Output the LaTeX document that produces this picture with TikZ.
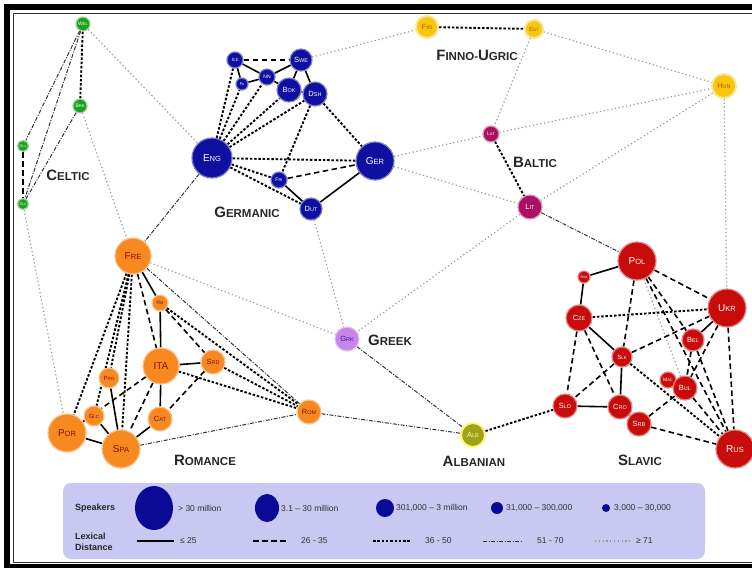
\documentclass[tikz,border=0pt]{standalone}
\usepackage{fontspec}
\setmainfont{Liberation Sans}
\setsansfont{Liberation Sans}
\usetikzlibrary{backgrounds,shapes.geometric}
\definecolor{celtC}{RGB}{30,160,30}
\definecolor{germC}{RGB}{16,16,160}
\definecolor{finC}{RGB}{248,198,10}
\definecolor{finT}{RGB}{200,80,0}
\definecolor{baltC}{RGB}{172,16,98}
\definecolor{grkC}{RGB}{200,132,235}
\definecolor{grkT}{RGB}{50,30,160}
\definecolor{albC}{RGB}{160,162,25}
\definecolor{romC}{RGB}{248,136,32}
\definecolor{romT}{RGB}{140,10,0}
\definecolor{slavC}{RGB}{200,12,12}
\definecolor{legC}{RGB}{200,200,242}
\definecolor{legB}{RGB}{10,10,150}
\newcommand\nl[4]{{\fontsize{#3}{#3}\selectfont #1}{\fontsize{#4}{#4}\selectfont #2}}
\newcommand\lblXL[2]{\nl{#1}{#2}{10}{7.5}}
\newcommand\lblL[2]{\nl{#1}{#2}{7.5}{5.5}}
\newcommand\lblM[2]{\nl{#1}{#2}{6}{4.5}}
\newcommand\lblS[2]{\nl{#1}{#2}{5}{4}}
\newcommand\lblXS[2]{\nl{#1}{#2}{4}{3}}
\newcommand\grp[2]{{\fontsize{15}{15}\selectfont #1}{\fontsize{11.5}{11.5}\selectfont #2}}
\tikzset{
  lang/.style={circle, inner sep=0pt, line width=1.2pt, font=\sffamily},
  celt/.style={lang, fill=celtC, draw=celtC!45!white, text=white},
  germ/.style={lang, fill=germC, draw=germC!55!white, text=white},
  finn/.style={lang, fill=finC, draw=finC!45!white, text=finT, line width=2pt},
  balt/.style={lang, fill=baltC, draw=baltC!45!white, text=white},
  grk/.style={lang, fill=grkC, draw=grkC!50!white, text=grkT},
  alb/.style={lang, fill=albC, draw=yellow!50!white, text=yellow!40!white, line width=2pt},
  roma/.style={lang, fill=romC, draw=romC!50!white, text=romT},
  slav/.style={lang, fill=slavC, draw=slavC!50!white, text=white},
  grplbl/.style={font=\sffamily\bfseries, text=black!85, inner sep=0pt},
  legtxt/.style={font=\sffamily\fontsize{8.5}{9.5}\selectfont, text=black!80, inner sep=0pt, anchor=west},
  legbold/.style={font=\sffamily\bfseries\fontsize{9}{10.5}\selectfont, text=black!85, inner sep=0pt, anchor=west, align=left},
  lsolid/.style={line width=1.6pt, black},
  ldash/.style={line width=1.6pt, black, dash pattern=on 5.5pt off 3.5pt},
  ldense/.style={line width=1.9pt, black, dash pattern=on 2.5pt off 1.8pt},
  ldd/.style={line width=1pt, black!80, dash pattern=on 4pt off 1.5pt on 1pt off 1.5pt},
  ldot/.style={line width=1.2pt, black!40, dash pattern=on 1.2pt off 2.6pt},
}
\begin{document}
\begin{tikzpicture}[x=1pt,y=-1pt]
\useasboundingbox (0,0) rectangle (752,570);
% frame
\fill[black] (4,4) rectangle (752,10);
\fill[black] (4,4) rectangle (10,568);
\fill[black] (4,564) rectangle (752,568);
\draw[black!80, line width=0.8pt] (752,13) -- (13,13) -- (13,562) -- (752,562);
% Celtic
\node[celt, minimum size=14pt] (Wel) at (83,24) {\lblS{W}{EL}};
\node[celt, minimum size=14pt] (Bre) at (80,106) {\lblS{B}{RE}};
\node[celt, minimum size=11pt] (Gla) at (23,146) {\lblXS{G}{LA}};
\node[celt, minimum size=11pt] (Gle) at (23,204) {\lblXS{G}{LE}};
% Germanic
\node[germ, minimum size=16pt] (Ice) at (235,60) {\lblS{I}{CE}};
\node[germ, minimum size=12pt] (Fa) at (242,84) {\lblXS{F}{A}};
\node[germ, minimum size=16pt] (NN) at (267,77) {\lblS{NN}{}};
\node[germ, minimum size=22pt] (Swe) at (301,60) {\lblL{S}{WE}};
\node[germ, minimum size=24pt] (Bok) at (289,90) {\lblL{B}{OK}};
\node[germ, minimum size=24pt] (Dsh) at (315,94) {\lblL{D}{SH}};
\node[germ, minimum size=40pt] (Eng) at (212,158) {\lblXL{E}{NG}};
\node[germ, minimum size=16pt] (Fri) at (279,180) {\lblS{F}{RI}};
\node[germ, minimum size=38pt] (Ger) at (375,161) {\lblXL{G}{ER}};
\node[germ, minimum size=22pt] (Dut) at (311,209) {\lblL{D}{UT}};
% Finno-Ugric, Baltic, Greek, Albanian
\node[finn, minimum size=22pt] (Fin) at (427,27) {\lblL{F}{IN}};
\node[finn, minimum size=18pt] (Est) at (534,29) {\lblM{E}{ST}};
\node[finn, minimum size=24pt] (Hun) at (724,86) {\lblL{H}{UN}};
\node[balt, minimum size=16pt] (Lat) at (491,134) {\lblS{L}{AT}};
\node[balt, minimum size=24pt] (Lit) at (530,207) {\lblL{L}{IT}};
\node[grk, minimum size=24pt] (Grk) at (347,339) {\lblL{G}{RK}};
\node[alb, minimum size=24pt] (Alb) at (473,435) {\lblL{A}{LB}};
% Romance
\node[roma, minimum size=36pt] (Fre) at (133,256) {\lblXL{F}{RE}};
\node[roma, minimum size=16pt] (Rm) at (160,303) {\lblS{R}{M}};
\node[roma, minimum size=36pt] (Ita) at (161,366) {\lblXL{ITA}{}};
\node[roma, minimum size=24pt] (Srd) at (213,362) {\lblL{S}{RD}};
\node[roma, minimum size=20pt] (Pro) at (109,378) {\lblM{P}{RO}};
\node[roma, minimum size=20pt] (Glc) at (94,416) {\lblM{G}{LC}};
\node[roma, minimum size=24pt] (Cat) at (160,419) {\lblL{C}{AT}};
\node[roma, minimum size=38pt] (Por) at (67,433) {\lblXL{P}{OR}};
\node[roma, minimum size=38pt] (Spa) at (121,449) {\lblXL{S}{PA}};
\node[roma, minimum size=24pt] (Rom) at (309,412) {\lblL{R}{OM}};
% Slavic
\node[slav, minimum size=38pt] (Pol) at (637,261) {\lblXL{P}{OL}};
\node[slav, minimum size=12pt] (Sor) at (584,277) {\lblXS{S}{OR}};
\node[slav, minimum size=26pt] (Cze) at (579,318) {\lblL{C}{ZE}};
\node[slav, minimum size=20pt] (Slk) at (622,357) {\lblM{S}{LK}};
\node[slav, minimum size=38pt] (Ukr) at (727,308) {\lblXL{U}{KR}};
\node[slav, minimum size=22pt] (Bel) at (693,340) {\lblL{B}{EL}};
\node[slav, minimum size=16pt] (Mac) at (668,380) {\lblS{M}{AC}};
\node[slav, minimum size=24pt] (Bul) at (685,388) {\lblL{B}{UL}};
\node[slav, minimum size=24pt] (Slo) at (565,406) {\lblL{S}{LO}};
\node[slav, minimum size=24pt] (Cro) at (620,407) {\lblL{C}{RO}};
\node[slav, minimum size=24pt] (Srb) at (639,424) {\lblL{S}{RB}};
\node[slav, minimum size=38pt] (Rus) at (735,449) {\lblXL{R}{US}};
% group labels
\node[grplbl] (tCelt) at (68,175) {\grp{C}{ELTIC}};
\node[grplbl] (tGerm) at (247,212) {\grp{G}{ERMANIC}};
\node[grplbl] (tFinn) at (477,55) {\grp{F}{INNO-}\grp{U}{GRIC}};
\node[grplbl] (tBalt) at (535,162) {\grp{B}{ALTIC}};
\node[grplbl] (tGrk) at (390,340) {\grp{G}{REEK}};
\node[grplbl] (tRom) at (205,460) {\grp{R}{OMANCE}};
\node[grplbl] (tAlb) at (474,461) {\grp{A}{LBANIAN}};
\node[grplbl] (tSlav) at (640,460) {\grp{S}{LAVIC}};
% legend
\node[legbold] (lSp) at (75,508) {Speakers};
\node[ellipse, fill=legB, inner sep=0pt, minimum width=38pt, minimum height=44pt] (e1) at (154,508) {};
\node[legtxt] (t1) at (178,508) {> 30 million};
\node[ellipse, fill=legB, inner sep=0pt, minimum width=24pt, minimum height=28pt] (e2) at (267,508) {};
\node[legtxt] (t2) at (281,508) {3.1 – 30 million};
\node[circle, fill=legB, inner sep=0pt, minimum size=18pt] (e3) at (385,508) {};
\node[legtxt] (t3) at (396,508) {301,000 – 3 million};
\node[circle, fill=legB, inner sep=0pt, minimum size=12pt] (e4) at (497,508) {};
\node[legtxt] (t4) at (506,508) {31,000 – 300,000};
\node[circle, fill=legB, inner sep=0pt, minimum size=8pt] (e5) at (606,508) {};
\node[legtxt] (t5) at (614,508) {3,000 – 30,000};
\node[legbold] (lLex) at (75,542) {Lexical\\Distance};
\coordinate (s1a) at (137,541); \coordinate (s1b) at (174,541);
\coordinate (s2a) at (253,541); \coordinate (s2b) at (286,541);
\coordinate (s3a) at (373,541); \coordinate (s3b) at (411,541);
\coordinate (s4a) at (483,541); \coordinate (s4b) at (523,541);
\coordinate (s5a) at (595,541); \coordinate (s5b) at (630,541);
\draw[lsolid, line width=1.3pt] (s1a) -- (s1b);
\draw[ldash, line width=1.3pt] (s2a) -- (s2b);
\draw[ldense, line width=1.3pt] (s3a) -- (s3b);
\draw[ldd] (s4a) -- (s4b);
\draw[ldot] (s5a) -- (s5b);
\node[legtxt] (u1) at (180,541) {≤ 25};
\node[legtxt] (u2) at (301,541) {26 - 35};
\node[legtxt] (u3) at (425,541) {36 - 50};
\node[legtxt] (u4) at (537,541) {51 - 70};
\node[legtxt] (u5) at (636,541) {≥ 71};
\begin{scope}[on background layer]
\fill[legC, rounded corners=8pt] (63,483) rectangle (705,559);
% Celtic
\draw[ldense] (Wel) -- (Bre);
\draw[ldash] (Gla) -- (Gle);
\draw[ldd] (Wel) -- (Gla);
\draw[ldd] (Wel) -- (Gle);
\draw[ldd] (Bre) -- (Gle);
\draw[ldot] (Wel) -- (Eng);
\draw[ldot] (Bre) -- (Fre);
\draw[ldot] (Gle) -- (Por);
% Germanic
\draw[ldash] (Ice) -- (Swe);
\draw[lsolid] (Ice) -- (Fa);
\draw[lsolid] (Ice) -- (NN);
\draw[lsolid] (Fa) -- (NN);
\draw[lsolid] (NN) -- (Swe);
\draw[lsolid] (NN) -- (Bok);
\draw[lsolid] (Swe) -- (Bok);
\draw[lsolid] (Swe) -- (Dsh);
\draw[lsolid] (Bok) -- (Dsh);
\draw[ldense] (Eng) -- (Ice);
\draw[ldense] (Eng) -- (Fa);
\draw[ldense] (Eng) -- (NN);
\draw[ldense] (Eng) -- (Bok);
\draw[ldense] (Eng) -- (Dsh);
\draw[ldense] (Dsh) -- (Ger);
\draw[ldense] (Dsh) -- (Fri);
\draw[ldense] (Eng) -- (Ger);
\draw[ldense] (Eng) -- (Fri);
\draw[ldense] (Eng) -- (Dut);
\draw[ldash] (Fri) -- (Ger);
\draw[lsolid] (Fri) -- (Dut);
\draw[lsolid] (Dut) -- (Ger);
\draw[ldot] (Swe) -- (Fin);
\draw[ldd] (Eng) -- (Fre);
\draw[ldot] (Dut) -- (Grk);
\draw[ldot] (Ger) -- (Lat);
\draw[ldot] (Ger) -- (Lit);
% Finno-Ugric, Baltic
\draw[ldense] (Fin) -- (Est);
\draw[ldot] (Est) -- (Hun);
\draw[ldot] (Est) -- (Lat);
\draw[ldot] (Lat) -- (Hun);
\draw[ldot] (Lit) -- (Hun);
\draw[ldense] (Lat) -- (Lit);
\draw[ldd] (Lit) -- (Pol);
\draw[ldot] (Hun) -- (Ukr);
\draw[ldot] (Lit) -- (Grk);
% Greek, Albanian
\draw[ldot] (Fre) -- (Grk);
\draw[ldd] (Grk) -- (Alb);
\draw[ldd] (Rom) -- (Alb);
\draw[ldense] (Alb) -- (Slo);
% Romance
\draw[lsolid] (Fre) -- (Rm);
\draw[lsolid] (Rm) -- (Ita);
\draw[lsolid] (Ita) -- (Srd);
\draw[lsolid] (Ita) -- (Cat);
\draw[lsolid] (Cat) -- (Spa);
\draw[lsolid] (Spa) -- (Por);
\draw[lsolid] (Spa) -- (Glc);
\draw[lsolid] (Pro) -- (Spa);
\draw[ldash] (Fre) -- (Ita);
\draw[ldense] (Fre) -- (Por);
\draw[ldense] (Fre) -- (Pro);
\draw[ldense] (Fre) -- (Spa);
\draw[ldense] (Fre) -- (Glc);
\draw[ldash] (Ita) -- (Por);
\draw[ldash] (Ita) -- (Spa);
\draw[ldash] (Srd) -- (Cat);
\draw[ldash] (Rm) -- (Srd);
\draw[ldense] (Rm) -- (Rom);
\draw[ldd] (Fre) -- (Rom);
\draw[ldense] (Ita) -- (Rom);
\draw[ldense] (Srd) -- (Rom);
\draw[ldd] (Spa) -- (Rom);
% Slavic
\draw[lsolid] (Sor) -- (Pol);
\draw[lsolid] (Sor) -- (Cze);
\draw[lsolid] (Cze) -- (Slk);
\draw[lsolid] (Slk) -- (Cro);
\draw[lsolid] (Slo) -- (Cro);
\draw[lsolid] (Cro) -- (Srb);
\draw[lsolid] (Ukr) -- (Bel);
\draw[lsolid] (Mac) -- (Bul);
\draw[ldash] (Pol) -- (Ukr);
\draw[ldash] (Pol) -- (Slk);
\draw[ldash] (Pol) -- (Bel);
\draw[ldash] (Pol) -- (Rus);
\draw[ldot] (Pol) -- (Bul);
\draw[ldense] (Cze) -- (Ukr);
\draw[ldash] (Cze) -- (Slo);
\draw[ldash] (Cze) -- (Cro);
\draw[ldash] (Slk) -- (Ukr);
\draw[ldash] (Slk) -- (Slo);
\draw[ldense] (Slk) -- (Rus);
\draw[ldash] (Ukr) -- (Bul);
\draw[ldash] (Ukr) -- (Rus);
\draw[ldash] (Bel) -- (Bul);
\draw[ldash] (Bel) -- (Rus);
\draw[ldash] (Bul) -- (Rus);
\draw[ldash] (Srb) -- (Rus);
\draw[ldash] (Srb) -- (Bul);
\end{scope}
\end{tikzpicture}
\end{document}
